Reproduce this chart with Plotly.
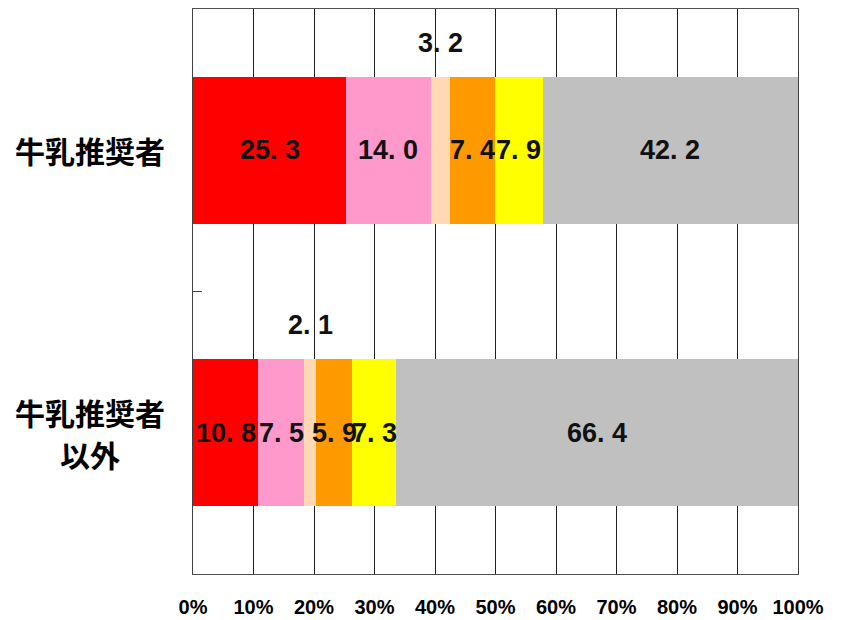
import plotly.graph_objects as go

# Respondent groups (top to bottom)
groups = ["牛乳推奨者", "牛乳推奨者<br>以外"]

# Share of each response segment per group (%)
seg_1 = [25.3, 10.8]
seg_2 = [14.0, 7.5]
seg_3 = [3.2, 2.1]
seg_4 = [7.4, 5.9]
seg_5 = [7.9, 7.3]
seg_6 = [42.2, 66.4]

segments = [seg_1, seg_2, seg_3, seg_4, seg_5, seg_6]
colors = ["#FF0000", "#FF99CC", "#FFD9B3", "#FF9900", "#FFFF00", "#C0C0C0"]
# segments whose label sits above the bar instead of inside it
label_above = [False, False, True, False, False, False]

x_ticks = [0, 10, 20, 30, 40, 50, 60, 70, 80, 90, 100]
x_tick_text = [f"{t}%" for t in x_ticks]

BAR_WIDTH = 0.52
NUM_FONT = "Liberation Sans, Arial, sans-serif"


def fmt(v):
    return f"{v:.1f}".replace(".", ". ")


fig = go.Figure()
annotations = []
ypos = list(range(len(groups)))
for si, (vals, col) in enumerate(zip(segments, colors)):
    fig.add_trace(go.Bar(
        y=ypos, x=vals, orientation="h", marker=dict(color=col, line=dict(width=0)),
        width=BAR_WIDTH, showlegend=False, hoverinfo="skip",
    ))
    for gi, v in enumerate(vals):
        start = sum(s[gi] for s in segments[:si])
        center = start + v / 2
        label_font = dict(family=NUM_FONT, size=27, color="#111111", weight="bold")
        if label_above[si]:
            annotations.append(dict(
                x=center, y=gi - BAR_WIDTH / 2, xref="x", yref="y",
                text=fmt(v), showarrow=False, yanchor="bottom", yshift=17,
                font=label_font,
            ))
        else:
            annotations.append(dict(
                x=center, y=gi, xref="x", yref="y",
                text=fmt(v), showarrow=False, font=label_font,
            ))

# group labels, centred to the left of the plot
span_open = "<span style='font-size:30px'>"
for gi, g in enumerate(groups):
    text = span_open + g.replace("<br>", "</span><br>" + span_open) + "</span>"
    annotations.append(dict(
        x=-0.043, y=gi, xref="paper", yref="y", text=text,
        showarrow=False, xanchor="right", align="center",
        font=dict(family="Noto Sans CJK JP", size=32, color="#000000", weight="bold"),
    ))

fig.update_layout(
    barmode="stack",
    width=841, height=620,
    margin=dict(l=193, r=43, t=9, b=46),
    paper_bgcolor="white", plot_bgcolor="white",
    annotations=annotations,
    xaxis=dict(
        range=[0, 100], tickvals=x_ticks, ticktext=x_tick_text,
        showgrid=True, gridcolor="#202020", gridwidth=1,
        showline=True, linecolor="#505050", linewidth=1, mirror=True,
        ticks="", ticklabelstandoff=15, zeroline=False, automargin=False,
        tickfont=dict(family=NUM_FONT, size=20, color="#000000", weight="bold"),
    ),
    yaxis=dict(
        range=[len(groups) - 0.5, -0.5], tickvals=[0.5], showticklabels=False,
        ticks="inside", ticklen=9, tickcolor="#404040",
        showgrid=False, zeroline=False, automargin=False,
        showline=True, linecolor="#404040", linewidth=1, mirror=True,
    ),
)

fig.write_html("out.html")
